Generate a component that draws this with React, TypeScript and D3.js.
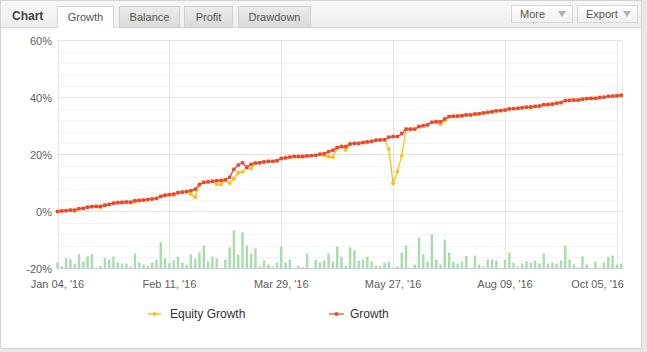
import { useEffect } from "react";
import * as d3 from "d3";

// one point per trading session
const growth = [
  0, 0.2, 0.3, 0.5, 0.5, 1.0, 1.1, 1.5, 1.7, 1.8, 1.8, 2.2, 2.5, 2.9, 3.1, 3.2, 3.3, 3.3, 3.8, 3.9, 4.0, 4.2, 4.4, 4.6, 5.3, 5.7, 5.9,
  6.1, 6.6, 6.8, 7.0, 7.3, 7.8, 9.5, 10.2, 10.4, 10.6, 10.8, 10.9, 11.1, 12.0, 14.8, 16.3, 17.1, 15.5, 16.6, 17.0, 17.1, 17.4, 17.6, 17.6, 17.8, 18.6,
  18.8, 19.1, 19.3, 19.3, 19.3, 19.5, 19.6, 19.7, 20.1, 20.3, 21.0, 21.5, 22.4, 22.8, 22.8, 23.7, 23.9, 23.9, 24.2, 24.4, 24.6, 25.0, 25.1, 25.2, 26.1, 26.3, 26.3,
  27.3, 28.9, 28.9, 28.9, 29.8, 30.1, 30.4, 31.3, 31.5, 31.5, 32.5, 33.3, 33.4, 33.5, 33.6, 33.9, 33.9, 34.2, 34.3, 34.6, 34.8, 35.0, 35.3, 35.4, 35.6, 36.0, 36.1,
  36.2, 36.4, 36.6, 36.7, 36.9, 37.0, 37.5, 37.6, 37.7, 38.0, 38.2, 38.9, 39.0, 39.1, 39.1, 39.4, 39.6, 39.7, 39.7, 40.0, 40.1, 40.4, 40.5, 40.6, 40.8,
];

const equityGrowth = [
  0, 0.2, 0.3, 0.5, 0.1, 1.0, 1.1, 1.5, 1.7, 1.8, 1.4, 2.2, 2.5, 2.9, 3.1, 3.2, 3.3, 3.0, 3.4, 3.9, 4.0, 4.2, 4.4, 4.6, 5.3, 5.7, 5.9,
  5.8, 6.6, 6.8, 7.0, 6.1, 5.0, 9.5, 10.2, 10.4, 10.6, 9.5, 9.5, 11.1, 9.9, 11.5, 13.6, 13.9, 15.5, 15.0, 17.0, 17.1, 17.4, 17.6, 17.6, 17.8, 18.6,
  18.8, 19.1, 19.3, 19.3, 19.3, 19.5, 19.6, 19.7, 20.1, 19.6, 19.3, 19.0, 22.4, 22.8, 21.6, 23.7, 23.9, 23.9, 24.2, 24.4, 24.6, 25.0, 25.1, 25.2, 21.9, 9.9, 14.0,
  19.6, 28.9, 28.9, 28.9, 29.8, 30.1, 30.4, 31.3, 31.5, 30.6, 31.9, 33.3, 33.4, 33.5, 33.6, 33.9, 33.7, 34.2, 34.3, 34.4, 34.8, 35.0, 35.3, 35.4, 35.6, 36.0, 36.1,
  36.2, 36.4, 36.6, 36.4, 36.9, 37.0, 37.5, 37.3, 37.7, 38.0, 38.2, 38.9, 39.0, 39.1, 39.1, 39.4, 39.6, 39.7, 39.7, 40.0, 40.1, 40.4, 40.5, 40.6, 40.8,
];

// unlabeled green columns along the bottom (relative size)
const activity = [
  6, 2.3, 10.3, 9.3, 4.3, 14.3, 7.3, 12, 14.3, 0.7, 2.7, 10.3, 9, 12, 6, 5, 5, 1.7, 15, 6, 4, 2.3, 6, 9, 26.3, 10.3, 5.3,
  8, 12, 6, 4, 14, 10, 16, 23, 7, 12, 10, 0.8, 9, 21, 38, 14, 36, 23, 15, 20, 2, 8, 4, 2, 6, 22,
  6, 9, 0.5, 2.5, 1.5, 15, 0.5, 9, 6, 8, 15, 7, 22, 12, 2.5, 21, 18, 8, 9, 12, 7, 2.5, 2.5, 6, 7, 1, 2,
  16, 23, 0.5, 4, 31, 14, 7, 34, 9, 4, 29, 16, 7, 5, 7, 12.5, 0.5, 13, 4, 2, 9, 9, 8, 0.5, 9, 16, 6,
  2, 5, 7, 6, 8, 5, 15, 5, 6, 5, 8, 23, 9, 4, 1, 12, 4, 0.5, 7, 1, 6, 12, 13, 4, 5,
];

const tickIndex = [0, 26, 52, 78, 104, 130];
const tickLabels = ["Jan 04, '16", "Feb 11, '16", "Mar 29, '16", "May 27, '16", "Aug 09, '16", "Oct 05, '16"];
const yTicks = [-20, 0, 20, 40, 60];
const tabs = ["Growth", "Balance", "Profit", "Drawdown"];

const RED = "#ee4433";
const YELLOW = "#ffbf0f";
const GREEN = "#a8dcaa";
const FONT = "'Liberation Sans', Arial, sans-serif";

export default function App() {
  useEffect(() => {
    document.body.style.margin = "0";
  }, []);

  const W = 647;
  const H = 352;
  const left = 57.5;
  const right = 622.5;
  const top = 40.5;
  const bottom = 268.5;

  const idx = d3.range(growth.length);
  const x = d3.scalePoint<number>().domain(idx).range([57.5, 621.2]);
  const y = d3.scaleLinear().domain([-20, 60]).range([bottom, top]);
  const yBar = d3.scaleLinear().domain([0, 40]).range([bottom, bottom - 40]);

  const line = d3
    .line<number>()
    .x((_, i) => x(i)!)
    .y((d) => y(d));

  const minorTicks = d3.range(-20, 61, 4).filter((v) => v % 20 !== 0);

  // tab geometry
  const tabX = [57, 119, 184, 238];
  const tabW = [57, 61, 49, 73];

  return (
    <div style={{ position: "absolute", left: 0, top: 0 }}>
      <svg width={W} height={H} style={{ display: "block", fontFamily: FONT }}>
        <defs>
          <linearGradient id="tabGrad" x1="0" y1="0" x2="0" y2="1">
            <stop offset="0" stopColor="#ececec" />
            <stop offset="1" stopColor="#d9d9d9" />
          </linearGradient>
          <linearGradient id="headGrad" x1="0" y1="0" x2="0" y2="1">
            <stop offset="0" stopColor="#f7f7f7" />
            <stop offset="1" stopColor="#efefef" />
          </linearGradient>
          <linearGradient id="btnGrad" x1="0" y1="0" x2="0" y2="1">
            <stop offset="0" stopColor="#ffffff" />
            <stop offset="1" stopColor="#f0f0f0" />
          </linearGradient>
        </defs>

        {/* page + panel */}
        <rect width={W} height={H} fill="#e8e8e8" />
        <rect x={0.5} y={0.5} width={641} height={348} fill="#fff" stroke="#d4d4d4" />

        {/* header */}
        <rect x={1} y={1} width={640} height={26.5} fill="url(#headGrad)" />
        <line x1={1} x2={641} y1={27.5} y2={27.5} stroke="#d6d6d6" />
        <text x={12} y={20} fontSize={12} fontWeight="bold" fill="#444">
          Chart
        </text>
        {tabs.map((t, i) => (
          <g key={t}>
            {i === 0 ? (
              <path
                d={`M${tabX[i] + 0.5},28 V6.5 H${tabX[i] + tabW[i] - 0.5} V28`}
                fill="#fff"
                stroke="#d6d6d6"
              />
            ) : (
              <rect
                x={tabX[i] + 0.5}
                y={6.5}
                width={tabW[i] - 1}
                height={21}
                fill="url(#tabGrad)"
                stroke="#d0d0d0"
              />
            )}
            <text
              x={tabX[i] + tabW[i] / 2}
              y={21}
              textAnchor="middle"
              fontSize={11}
              fill="#555"
            >
              {t}
            </text>
          </g>
        ))}
        {[
          { label: "More", x: 511, w: 61 },
          { label: "Export", x: 577, w: 60 },
        ].map((b) => (
          <g key={b.label}>
            <rect x={b.x + 0.5} y={5.5} width={b.w} height={17} fill="url(#btnGrad)" stroke="#d6d6d6" />
            <text x={b.x + 9} y={18} fontSize={11} fill="#555">
              {b.label}
            </text>
            <path
              d={`M${b.x + b.w - 14},11 h8 l-4,6 z`}
              fill="#b0b0b0"
            />
          </g>
        ))}

        {/* grid */}
        {minorTicks.map((v) => (
          <line key={"m" + v} x1={left} x2={right} y1={Math.round(y(v)) + 0.5} y2={Math.round(y(v)) + 0.5} stroke="#f3f3f3" />
        ))}
        {yTicks.map((v) => (
          <line key={"g" + v} x1={left} x2={right} y1={y(v)} y2={y(v)} stroke="#e3e3e3" />
        ))}
        {tickIndex.map((t) => (
          <line
            key={"v" + t}
            x1={Math.round(x(t)!) + 0.5}
            x2={Math.round(x(t)!) + 0.5}
            y1={top}
            y2={bottom}
            stroke="#e6e6e6"
          />
        ))}
        <line x1={right} x2={right} y1={top} y2={bottom} stroke="#eeeeee" />

        {/* activity columns */}
        {activity.map((v, i) => (
          <rect
            key={"b" + i}
            x={x(i)! - 1.2}
            y={yBar(v)}
            width={2.4}
            height={bottom - yBar(v)}
            fill={GREEN}
          />
        ))}
        <line x1={left} x2={right} y1={bottom} y2={bottom} stroke="#c0d0e0" />

        {/* y labels */}
        {yTicks.map((v) => (
          <text key={"yl" + v} x={52} y={y(v) + 4} textAnchor="end" fontSize={11} fill="#606060">
            {v}%
          </text>
        ))}

        {/* x labels */}
        {tickIndex.map((t, i) => {
          const last = i === tickIndex.length - 1;
          return (
            <text
              key={"xl" + t}
              x={last ? 624 : x(t)!}
              y={288}
              textAnchor={last ? "end" : "middle"}
              fontSize={11}
              fill="#606060"
            >
              {tickLabels[i]}
            </text>
          );
        })}

        {/* equity growth */}
        <path d={line(equityGrowth) ?? ""} fill="none" stroke={YELLOW} strokeWidth={1.3} />
        {equityGrowth.map((v, i) => (
          <circle key={"e" + i} cx={x(i)!} cy={y(v)} r={1.9} fill={YELLOW} />
        ))}

        {/* growth */}
        <path d={line(growth) ?? ""} fill="none" stroke={RED} strokeWidth={1.3} />
        {growth.map((v, i) => (
          <rect key={"g" + i} x={x(i)! - 1.7} y={y(v) - 1.7} width={3.4} height={3.4} fill={RED} />
        ))}

        {/* legend */}
        <g>
          <line x1={148} x2={161} y1={314} y2={314} stroke={YELLOW} strokeWidth={2} opacity={0.7} />
          <circle cx={154.5} cy={314} r={2} fill={YELLOW} />
          <text x={170} y={318} fontSize={12} fill="#333">
            Equity Growth
          </text>
          <line x1={329} x2={344} y1={314} y2={314} stroke={RED} strokeWidth={2} opacity={0.6} />
          <circle cx={336.5} cy={314} r={2} fill={RED} />
          <text x={350} y={318} fontSize={12} fill="#333">
            Growth
          </text>
        </g>
      </svg>
    </div>
  );
}
